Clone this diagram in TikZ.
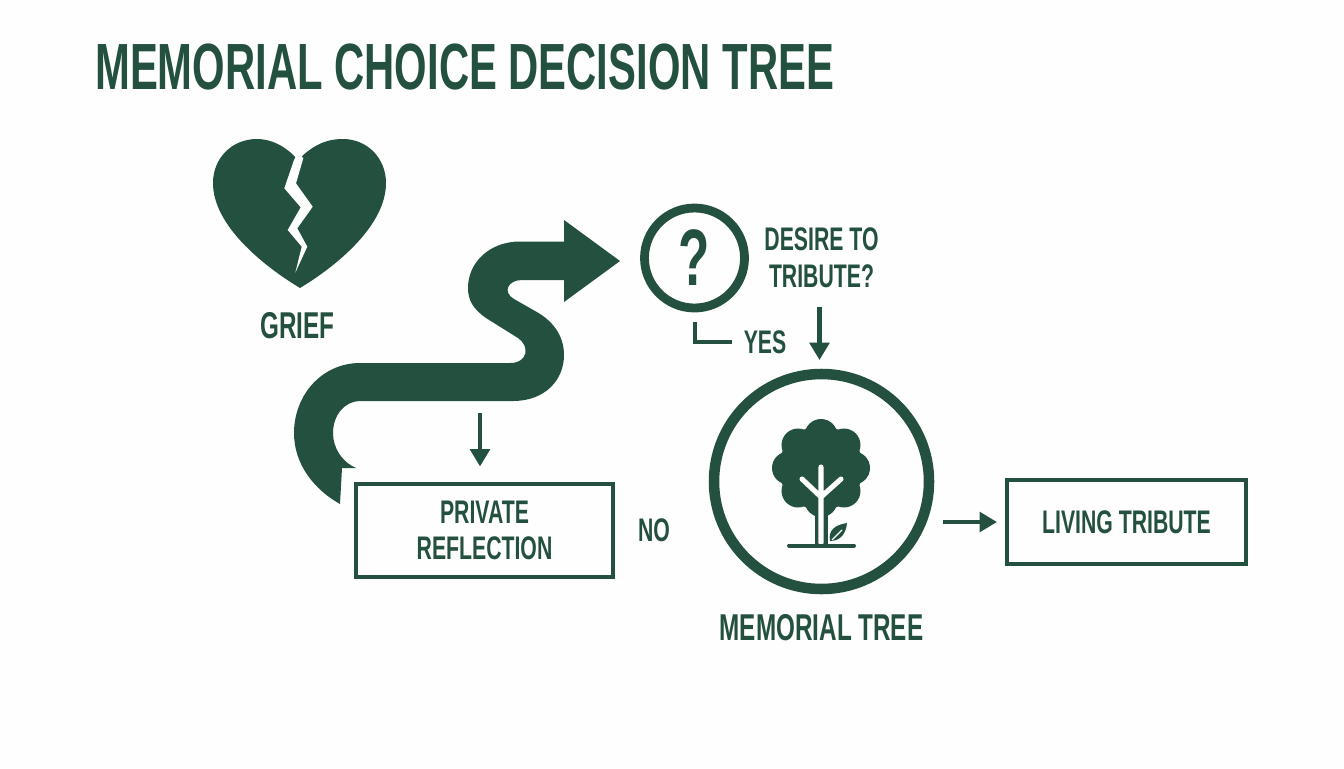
\documentclass[tikz,border=0pt]{standalone}
\usepackage{fontspec}
\setmainfont{Liberation Sans}[FakeStretch=0.65,BoldFont={Liberation Sans Bold}]
\newfontfamily\headfont{Liberation Sans Bold}[FakeStretch=0.64]
\usetikzlibrary{arrows.meta}
\definecolor{pine}{HTML}{24513F}
\definecolor{paper}{HTML}{FDFEFD}
\tikzset{
  word/.style={text=pine,inner sep=0pt,align=center,font=\bfseries\fontsize{24.5}{26}\selectfont},
  bigword/.style={word,font=\bfseries\fontsize{28}{30}\selectfont},
  titleword/.style={word,anchor=west,font=\headfont\fontsize{49}{52}\selectfont},
  plate/.style={draw=pine,line width=3pt,word,fill=none},
  ring/.style={draw=pine,circle,inner sep=0pt},
  pointer/.style={draw=pine,line width=3.4pt,-{Triangle[length=13pt,width=14.5pt]}},
  elbow/.style={draw=pine,line width=3pt}
}
\begin{document}
\begin{tikzpicture}[x=0.75pt,y=-0.75pt]
  \fill[paper] (0,0) rectangle (1344,768);
  \useasboundingbox (0,0) rectangle (1344,768);
  \draw
    (95,67.5) node[titleword] (title){MEMORIAL CHOICE DECISION TREE}
    (297.5,326) node[bigword] (griefword){GRIEF}
    (821.5,481.5) node[ring,line width=7.9pt,minimum size=161.25pt] (treering){}
    (694.5,258) node[ring,line width=6.6pt,minimum size=75pt] (askring){}
    (694.5,258) node[word,font=\headfont\fontsize{60}{62}\selectfont] (askmark){?}
    (821.5,257.5) node[word] (askword){DESIRE TO\\[1.5pt]TRIBUTE?}
    (765,342) node[word] (yes){YES}
    (654,530) node[word] (no){NO}
    (484.5,530) node[plate,minimum width=192.75pt,minimum height=69.75pt] (private){PRIVATE\\[1pt]REFLECTION}
    (1126.5,522) node[plate,minimum width=179.25pt,minimum height=63pt] (living){LIVING TRIBUTE}
    (821.5,628) node[bigword] (treeword){MEMORIAL TREE};
  \coordinate (privatefrom) at (480,413);
  \coordinate (treefrom) at (819.5,307);
  \coordinate (livingfrom) at (943,522);

  % broken heart
  \fill[pine] (298,160) .. controls (285,145) and (270,139) .. (257,139)
    .. controls (232,139) and (213,158) .. (213,183)
    .. controls (213,225) and (262,265) .. (300,288)
    .. controls (338,265) and (386,225) .. (386,183)
    .. controls (386,158) and (367,139) .. (343,139)
    .. controls (325,139) and (312,146) .. (298,160) -- cycle;
  \fill[paper] (294,160) -- (284.3,188.3) -- (300.7,207.3) -- (287.7,230) -- (301.7,246.7) -- (295.3,272.7)
    -- (307.3,246.7) -- (297.3,228.3) -- (312.7,206.7) -- (296,183.3) -- (303.3,158.3) -- (298,152) -- cycle;

  % winding arrow
  \fill[pine] (564,241.5) -- (520,241.5) .. controls (490,241.5) and (468,262) .. (468,288)
    .. controls (468,300) and (473,309) .. (486,318)
    -- (518,338) .. controls (530,346) and (528,363) .. (510,363)
    -- (360,363) .. controls (322,363) and (294,395) .. (294,433)
    .. controls (294,465) and (315,490) .. (340,504)
    -- (342,468) -- (356,468) .. controls (342,462) and (333,448) .. (333,433)
    .. controls (333,415) and (345,401) .. (360,401)
    -- (513,401) .. controls (545,401) and (564,380) .. (564,355)
    .. controls (564,335) and (552,320) .. (535,311)
    -- (514,299) .. controls (502,292) and (508,280) .. (522,280)
    -- (564,280) -- (564,302) -- (620,261) -- (564,220) -- cycle;

  % tree
  \fill[pine] (821,468) circle[radius=42];
  \foreach \lobe in {0,45,...,315}
    \fill[pine] (821,468) ++(\lobe:32.5) circle[radius=16.5];
  \fill[pine] (814.5,490) rectangle (828,545);
  \draw[paper,line width=3.8pt,line cap=round] (821,467) -- (821,543)
    (821,497) -- (802,479) (821,497) -- (841,479);
  \draw[pine,line width=3pt,line cap=round] (789,545.5) -- (854,545.5);
  \fill[pine] (830,541) .. controls (828,530) and (835,525) .. (847,523)
    .. controls (846,533) and (841,541) .. (830,541) -- cycle;
  \draw[paper,line width=1pt] (832,540) -- (842,530);

  % connectors
  \draw[pointer,shorten >=11.25pt] (privatefrom) -- (private.north -| privatefrom);
  \draw[pointer,shorten >=6.5pt] (treefrom) -- (treefrom |- treering.north);
  \draw[pointer,shorten >=6pt] (livingfrom) -- (living.west);
  \draw[elbow,shorten <=7.5pt,shorten >=9pt] (askring.south) |- (yes.west);
\end{tikzpicture}
\end{document}
